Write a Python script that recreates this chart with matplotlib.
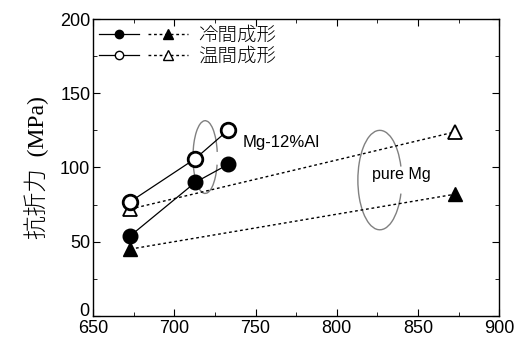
import matplotlib
matplotlib.use("Agg")
import matplotlib.pyplot as plt
from matplotlib.patches import Arc
from matplotlib.legend_handler import HandlerTuple
from matplotlib.lines import Line2D
from matplotlib.ticker import MultipleLocator, FuncFormatter

plt.rcParams['font.family'] = ['Liberation Sans', 'Noto Sans CJK JP', 'DejaVu Sans']

# Mg-12%Al alloy
temp_al = [673, 713, 733]
cold_al = [54, 90, 102]
warm_al = [77, 106, 125]

# pure Mg
temp_mg = [673, 873]
cold_mg = [45, 82]
warm_mg = [72, 124]

dotted = (0, (2, 2))

fig = plt.figure(figsize=(5.2, 3.4), dpi=100)
ax = fig.add_axes([0.179, 0.071, 0.781, 0.873])

ax.plot(temp_mg, warm_mg, color='black', lw=1.0, linestyle=dotted, marker='^',
        ms=10, mfc='white', mec='black', mew=1.3)
ax.plot(temp_mg, cold_mg, color='black', lw=1.0, linestyle=dotted, marker='^',
        ms=10, mfc='black', mec='black')
ax.plot(temp_al, warm_al, color='black', lw=0.9, marker='o',
        ms=10.5, mfc='white', mec='black', mew=2)
ax.plot(temp_al, cold_al, color='black', lw=0.9, marker='o',
        ms=10.5, mfc='black', mec='black')

# grouping loops
ax.add_patch(Arc((719, 107), 15, 49, theta1=25, theta2=325, color='grey', lw=1))
ax.add_patch(Arc((826.5, 91.5), 27, 67, theta1=35, theta2=325, color='grey', lw=1))
ax.text(742, 117, 'Mg-12%Al', fontsize=12, va='center', ha='left')
ax.text(822, 95.5, 'pure Mg', fontsize=11.5, va='center', ha='left')

h_cold = (Line2D([], [], color='black', lw=0.9, marker='o', ms=6, mfc='black'),
          Line2D([], [], color='black', lw=1.0, linestyle=dotted, marker='^', ms=7, mfc='black'))
h_warm = (Line2D([], [], color='black', lw=0.9, marker='o', ms=6, mfc='white'),
          Line2D([], [], color='black', lw=1.0, linestyle=dotted, marker='^', ms=7, mfc='white'))
ax.legend([h_cold, h_warm], ['冷間成形', '温間成形'],
          handler_map={tuple: HandlerTuple(ndivide=None, pad=0.5)},
          loc='upper left', frameon=False, handlelength=4.6,
          borderaxespad=0.1, borderpad=0.2, labelspacing=0.0, handletextpad=0.5,
          prop={'family': ['Noto Sans CJK JP'], 'size': 14, 'weight': 'light'})

ax.set_xlim(650, 900)
ax.set_ylim(0, 200)
ax.xaxis.set_major_locator(MultipleLocator(50))
ax.xaxis.set_minor_locator(MultipleLocator(25))
ax.yaxis.set_major_locator(MultipleLocator(50))
ax.yaxis.set_minor_locator(MultipleLocator(25))
# the "0" on y is drawn separately, nudged up so it clears the 650 below it
ax.yaxis.set_major_formatter(FuncFormatter(lambda v, p: '' if v == 0 else f'{v:g}'))
ax.annotate('0', xy=(0, 0), xycoords='axes fraction', xytext=(-3, 3),
            textcoords='offset points', ha='right', va='center', fontsize=13)
ax.tick_params(which='both', direction='in', top=True, right=True, labelsize=13, pad=2)
ax.tick_params(axis='x', pad=3)
ax.tick_params(which='major', length=5)
ax.tick_params(which='minor', length=3)
for s in ax.spines.values():
    s.set_linewidth(1.0)

ax.set_ylabel('抗折力  (MPa)', fontsize=17, family=['Liberation Serif', 'Noto Sans CJK JP'],
              weight='light', labelpad=8)

fig.savefig('out.png', dpi=100)
